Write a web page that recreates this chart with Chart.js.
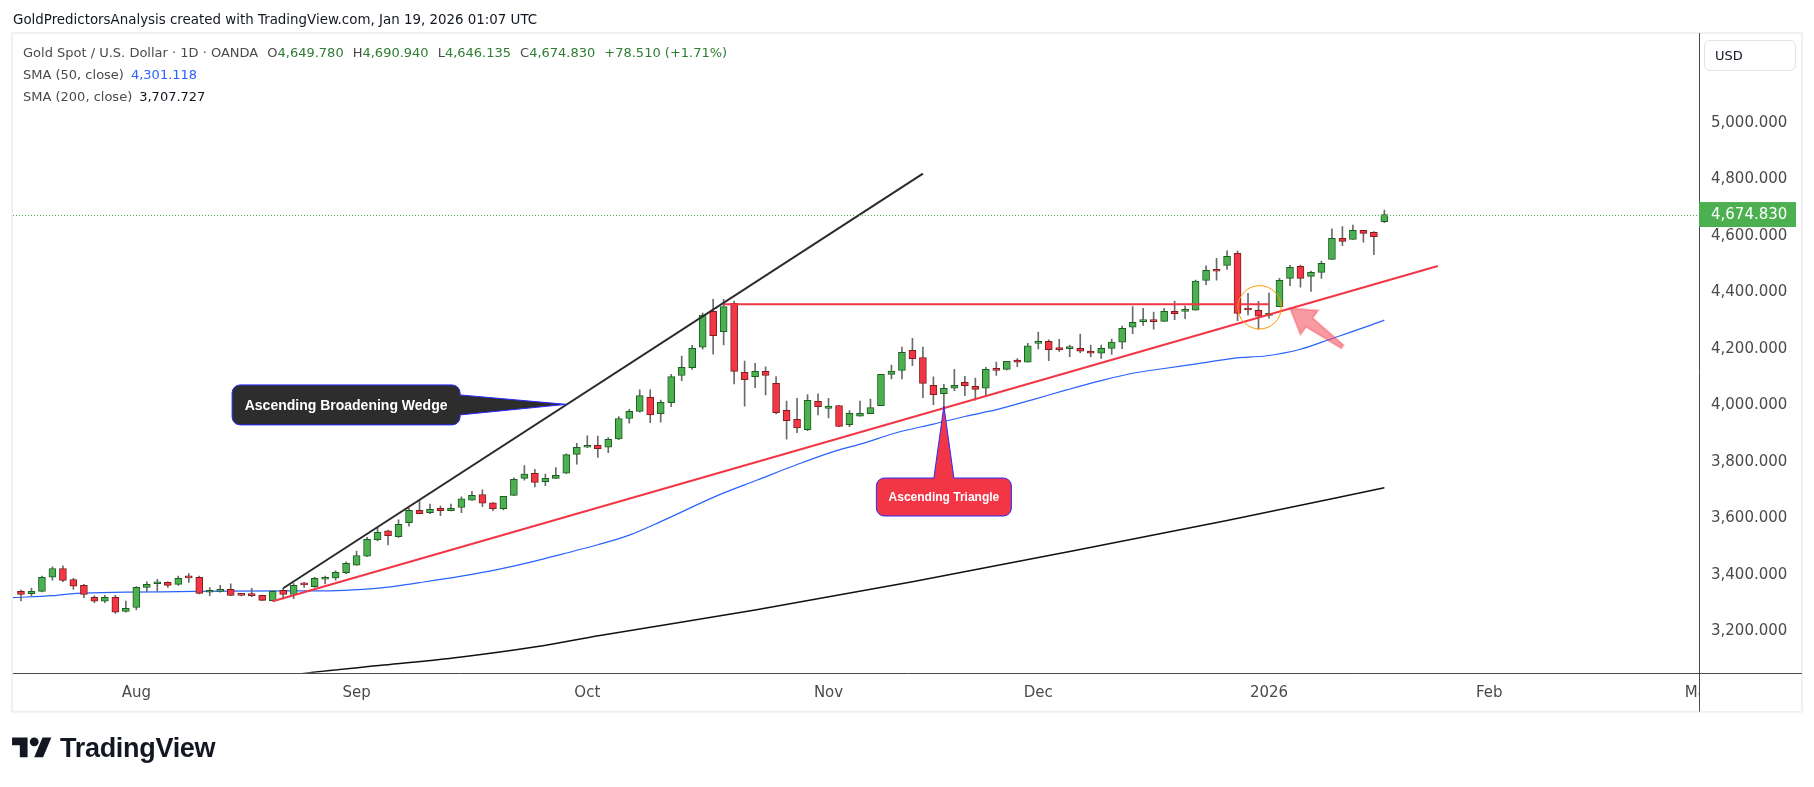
<!DOCTYPE html>
<html lang="en">
<head>
<meta charset="utf-8">
<title>Gold Spot / U.S. Dollar - 1D - OANDA</title>
<script src="https://cdn.jsdelivr.net/npm/chart.js@4.4.1/dist/chart.umd.min.js"></script>
<style>
    html, body { margin: 0; padding: 0; background: #ffffff; }
    body { position: relative; width: 1814px; height: 787px; overflow: hidden; font-family: 'DejaVu Sans', sans-serif; }
    #priceChart { position: absolute; left: 0; top: 0; }
    .snapshot-title { position: absolute; left: 13px; top: 11px; font-size: 13.4px; line-height: 17px; color: #131722; white-space: nowrap; }
    .legend-row { position: absolute; left: 23px; font-size: 13px; line-height: 16px; color: #4a4a4a; white-space: nowrap; }
    .legend-row .gap { margin-left: 9px; }
    .legend-row .up { color: #2e7d32; }
    .legend-row .sma50 { color: #2962ff; margin-left: 7px; }
    .legend-row .sma200 { color: #131722; margin-left: 7px; }
    .usd-btn { position: absolute; left: 1704px; top: 40px; width: 92px; height: 31px; box-sizing: border-box; border: 1px solid #e0e3eb; border-radius: 6px; padding-left: 10px; font-size: 13px; line-height: 29px; color: #131722; }
    .tv-logo { position: absolute; left: 12px; top: 733px; height: 31px; display: flex; align-items: center; color: #131722; }
    .tv-logo span { margin-left: 8px; font-family: 'Liberation Sans', sans-serif; font-weight: bold; font-size: 27px; letter-spacing: -0.3px; }
</style>
</head>
<body>
<canvas id="priceChart" width="1814" height="787"></canvas>
<div class="snapshot-title">GoldPredictorsAnalysis created with TradingView.com, Jan 19, 2026 01:07 UTC</div>
<div class="legend-row" id="legendMain" style="top: 45px"></div>
<div class="legend-row" id="legendSma50" style="top: 67px"></div>
<div class="legend-row" id="legendSma200" style="top: 89px"></div>
<div class="usd-btn">USD</div>
<div class="tv-logo">
    <svg width="40" height="31" viewBox="0 0 36 28"><path fill="#131722" d="M14 22H7V11H0V4h14v18zM28 22h-8l7.5-18h8L28 22z"/><circle fill="#131722" cx="20" cy="8" r="4"/></svg>
    <span>TradingView</span>
</div>
<script>
// Daily candles, 17 Jul 2025 .. 19 Jan 2026 (bar index 0..130)
const opens = [
    3341, 3333, 3341, 3391, 3422, 3383, 3362, 3320, 3306, 3320,
    3270, 3284, 3355, 3368, 3373, 3366, 3390, 3391, 3338, 3341,
    3348, 3328, 3327, 3327, 3308, 3345, 3330, 3365, 3358, 3384,
    3389, 3407, 3434, 3466, 3524, 3555, 3535, 3584, 3628, 3620,
    3635, 3627, 3638, 3664, 3684, 3654, 3634, 3681, 3741, 3759,
    3729, 3741, 3759, 3826, 3851, 3858, 3851, 3881, 3953, 3978,
    4028, 3970, 4009, 4105, 4133, 4205, 4332, 4260, 4361, 4116,
    4101, 4120, 4077, 3982, 3950, 3913, 4014, 3989, 3999, 3931,
    3961, 3970, 3998, 4109, 4123, 4194, 4169, 4070, 4041, 4060,
    4081, 4067, 4060, 4127, 4127, 4160, 4152, 4219, 4226, 4198,
    4200, 4201, 4192, 4184, 4201, 4223, 4276, 4296, 4299, 4297,
    4332, 4332, 4336, 4442, 4481, 4495, 4538, 4338, 4336, 4318,
    4349, 4449, 4492, 4456, 4470, 4516, 4591, 4587, 4619, 4612,
    4649.78
];
const highs = [
    3346, 3352, 3395, 3428, 3431, 3387, 3366, 3325, 3327, 3327,
    3307, 3358, 3375, 3384, 3375, 3395, 3404, 3395, 3354, 3362,
    3368, 3330, 3352, 3328, 3343, 3352, 3369, 3373, 3391, 3395,
    3414, 3446, 3484, 3532, 3566, 3558, 3594, 3635, 3664, 3650,
    3643, 3650, 3676, 3695, 3700, 3655, 3677, 3743, 3786, 3773,
    3756, 3779, 3828, 3865, 3892, 3891, 3885, 3960, 3985, 4054,
    4054, 4018, 4109, 4174, 4212, 4326, 4375, 4375, 4369, 4156,
    4148, 4136, 4101, 4015, 4024, 4038, 4040, 4024, 3999, 3981,
    4015, 4022, 4109, 4142, 4206, 4237, 4206, 4100, 4074, 4127,
    4102, 4096, 4134, 4153, 4155, 4165, 4219, 4259, 4231, 4233,
    4213, 4252, 4213, 4213, 4234, 4280, 4349, 4343, 4330, 4343,
    4369, 4351, 4443, 4493, 4520, 4546, 4546, 4396, 4368, 4397,
    4449, 4495, 4496, 4475, 4510, 4624, 4632, 4638, 4619, 4615,
    4690.94
];
const lows = [
    3307, 3326, 3339, 3381, 3375, 3348, 3319, 3301, 3301, 3263,
    3267, 3275, 3339, 3342, 3355, 3362, 3373, 3332, 3326, 3338,
    3326, 3325, 3322, 3308, 3306, 3314, 3315, 3355, 3355, 3367,
    3381, 3404, 3433, 3464, 3520, 3505, 3532, 3572, 3615, 3616,
    3609, 3626, 3620, 3663, 3641, 3627, 3629, 3680, 3735, 3711,
    3715, 3740, 3758, 3791, 3850, 3815, 3832, 3878, 3936, 3975,
    3938, 3940, 3995, 4087, 4127, 4198, 4181, 4213, 4075, 3997,
    4062, 4036, 3969, 3880, 3903, 3910, 3966, 3955, 3924, 3924,
    3961, 3970, 3998, 4093, 4093, 4140, 4027, 4002, 3985, 4051,
    4034, 4018, 4036, 4105, 4125, 4136, 4152, 4199, 4158, 4190,
    4172, 4186, 4172, 4166, 4180, 4200, 4253, 4282, 4269, 4297,
    4303, 4306, 4336, 4427, 4443, 4481, 4299, 4320, 4269, 4308,
    4349, 4423, 4418, 4403, 4449, 4516, 4565, 4587, 4577, 4533,
    4646.135
];
const closes = [
    3330, 3341, 3391, 3422, 3380, 3359, 3330, 3306, 3320, 3267,
    3281, 3355, 3366, 3373, 3362, 3387, 3389, 3334, 3342, 3348,
    3327, 3327, 3326, 3309, 3341, 3330, 3362, 3364, 3387, 3391,
    3408, 3440, 3468, 3525, 3550, 3538, 3578, 3628, 3616, 3631,
    3627, 3635, 3669, 3681, 3653, 3634, 3677, 3738, 3756, 3727,
    3741, 3752, 3825, 3851, 3857, 3846, 3879, 3953, 3978, 4034,
    3966, 4010, 4101, 4134, 4201, 4319, 4246, 4349, 4120, 4090,
    4120, 4105, 3974, 3945, 3920, 4017, 3995, 3997, 3925, 3971,
    3971, 3992, 4109, 4121, 4187, 4165, 4077, 4037, 4060, 4070,
    4069, 4056, 4127, 4123, 4155, 4152, 4210, 4226, 4197, 4197,
    4202, 4191, 4184, 4201, 4223, 4272, 4293, 4297, 4296, 4332,
    4324, 4333, 4439, 4477, 4474, 4527, 4325, 4337, 4315, 4325,
    4442, 4488, 4449, 4470, 4502, 4591, 4580, 4619, 4608, 4596.32,
    4674.83
];

// Moving averages at these bar positions
const sma50X = [-0.8, 3, 5.3, 10, 15, 20, 25, 29.5, 32.6, 35, 38, 42, 45.4, 49, 51.7, 55, 58, 61, 66.4, 70.2, 74, 77.4, 80, 83.8, 87, 90, 93.3, 96.5, 99.7, 102.9, 106, 109, 112.4, 115.6, 118.8, 122, 125.1, 128.3, 130];
const sma50Y = [3319, 3326, 3334, 3338, 3340, 3342, 3343, 3343, 3348, 3356, 3372, 3395, 3418, 3448, 3474, 3506, 3540, 3588, 3680, 3735, 3790, 3835, 3862, 3906, 3933, 3960, 3987, 4020, 4054, 4086, 4113, 4130, 4148, 4166, 4175, 4198, 4237, 4278, 4301.118];
const sma200X = [20, 27.5, 34.6, 41.8, 49.1, 55.2, 70, 85, 100, 115, 130];
const sma200Y = [3012, 3053, 3080, 3108, 3145, 3185, 3275, 3375, 3482, 3592, 3707.727];

// Drawn trend lines: [start, end] in bar index / price
const wedgeX = [25, 86];
const wedgeY = [3352, 4820];
const supportX = [24, 135.1];
const supportY = [3306, 4493];
const resistX = [67, 119];
const resistY = [4357, 4357];

// Axis ticks
const monthTicks = [11, 32, 54, 77, 97, 119, 140, 160];
const monthLabels = ['Aug', 'Sep', 'Oct', 'Nov', 'Dec', '2026', 'Feb', 'Mar'];
const priceTicks = [3200, 3400, 3600, 3800, 4000, 4200, 4400, 4600, 4800, 5000];

// Annotation anchors (bar index, price)
const retestCircle = [118.1, 4346.5];
const arrowTip = [121, 4343];
const arrowTail = [126, 4207];
const wedgeNote = { text: 'Ascending Broadening Wedge', at: [31, 4001], tip: [52, 4003] };
const triangleNote = { text: 'Ascending Triangle', at: [88, 3675], tip: [88, 3997] };

const fmt = (v, d = 3) => v.toLocaleString('en-US', { minimumFractionDigits: d, maximumFractionDigits: d });
const toPoints = (xs, ys) => xs.map((x, i) => ({ x, y: ys[i] }));

function buildLegend() {
    const last = closes.length - 1;
    const change = closes[last] - closes[last - 1];
    const pct = change / closes[last - 1] * 100;
    const sign = change >= 0 ? '+' : '';
    const ohlc = [['O', opens[last]], ['H', highs[last]], ['L', lows[last]], ['C', closes[last]]]
        .map(([k, v]) => `<span class="gap">${k}</span><span class="up">${fmt(v)}</span>`).join('');
    document.getElementById('legendMain').innerHTML =
        '<span>Gold Spot / U.S. Dollar · 1D · OANDA</span>' + ohlc +
        `<span class="gap up">${sign}${fmt(change)} (${sign}${pct.toFixed(2)}%)</span>`;
    document.getElementById('legendSma50').innerHTML =
        `<span>SMA (50, close)</span><span class="sma50">${fmt(sma50Y[sma50Y.length - 1])}</span>`;
    document.getElementById('legendSma200').innerHTML =
        `<span>SMA (200, close)</span><span class="sma200">${fmt(sma200Y[sma200Y.length - 1])}</span>`;
}

function calloutPath(ctx, x, y, w, h, r, side, tip, half) {
    const cx = x + w / 2, cy = y + h / 2;
    ctx.beginPath();
    ctx.moveTo(x + r, y);
    if (side === 'top') {
        ctx.lineTo(cx - half, y);
        ctx.lineTo(tip.x, tip.y);
        ctx.lineTo(cx + half, y);
    }
    ctx.lineTo(x + w - r, y);
    ctx.arcTo(x + w, y, x + w, y + r, r);
    if (side === 'right') {
        ctx.lineTo(x + w, cy - half);
        ctx.lineTo(tip.x, tip.y);
        ctx.lineTo(x + w, cy + half);
    }
    ctx.lineTo(x + w, y + h - r);
    ctx.arcTo(x + w, y + h, x + w - r, y + h, r);
    ctx.lineTo(x + r, y + h);
    ctx.arcTo(x, y + h, x, y + h - r, r);
    ctx.lineTo(x, y + r);
    ctx.arcTo(x, y, x + r, y, r);
    ctx.closePath();
}

function drawCallout(ctx, sx, sy, note, opts) {
    const cx = sx.getPixelForValue(note.at[0]);
    const cy = sy.getPixelForValue(note.at[1]);
    const tip = { x: sx.getPixelForValue(note.tip[0]), y: sy.getPixelForValue(note.tip[1]) };
    const x = cx - opts.w / 2, y = cy - opts.h / 2;
    calloutPath(ctx, x, y, opts.w, opts.h, 8, opts.side, tip, 10);
    ctx.fillStyle = opts.fill;
    ctx.fill();
    ctx.strokeStyle = '#2a2aff';
    ctx.lineWidth = 1;
    ctx.stroke();
    ctx.fillStyle = '#ffffff';
    ctx.font = `bold ${opts.size}px 'Liberation Sans', sans-serif`;
    ctx.textAlign = 'center';
    ctx.textBaseline = 'middle';
    ctx.fillText(note.text, cx, cy + 1);
}

function drawArrow(ctx, tip, tail) {
    const dx = tip.x - tail.x, dy = tip.y - tail.y;
    const len = Math.hypot(dx, dy);
    const ux = dx / len, uy = dy / len;
    const px = -uy, py = ux;
    const headLen = 24, headHalf = 15, neckHalf = 5.5, tailHalf = 2;
    const bx = tip.x - ux * headLen, by = tip.y - uy * headLen;
    ctx.beginPath();
    ctx.moveTo(tip.x, tip.y);
    ctx.lineTo(bx + px * headHalf, by + py * headHalf);
    ctx.lineTo(bx + px * neckHalf, by + py * neckHalf);
    ctx.lineTo(tail.x + px * tailHalf, tail.y + py * tailHalf);
    ctx.lineTo(tail.x - px * tailHalf, tail.y - py * tailHalf);
    ctx.lineTo(bx - px * neckHalf, by - py * neckHalf);
    ctx.lineTo(bx - px * headHalf, by - py * headHalf);
    ctx.closePath();
    ctx.fillStyle = 'rgba(242, 54, 69, 0.5)';
    ctx.fill();
    ctx.strokeStyle = 'rgba(242, 54, 69, 0.3)';
    ctx.lineWidth = 2;
    ctx.stroke();
}

const drawingsPlugin = {
    id: 'drawings',
    beforeDraw(chart) {
        const { ctx, chartArea: a, scales: { x, y } } = chart;
        ctx.save();
        ctx.fillStyle = '#ffffff';
        ctx.fillRect(0, 0, chart.width, chart.height);
        ctx.strokeStyle = '#eef0f3';
        ctx.lineWidth = 2;
        ctx.strokeRect(a.left - 1, a.top - 3, y.right - a.left + 1, x.bottom - a.top + 3);
        ctx.restore();
    },
    afterDraw(chart) {
        const { ctx, chartArea: a, scales: { x, y } } = chart;
        ctx.save();

        // the time label under the price scale is cut off
        ctx.fillStyle = '#ffffff';
        ctx.fillRect(a.right + 1, x.top + 1, y.right - a.right - 2, x.bottom - x.top - 2);

        // axis lines
        ctx.strokeStyle = '#4a4a4a';
        ctx.lineWidth = 1;
        ctx.beginPath();
        ctx.moveTo(a.left, Math.round(x.top) + 0.5);
        ctx.lineTo(y.right, Math.round(x.top) + 0.5);
        ctx.moveTo(Math.round(a.right) + 0.5, a.top - 3);
        ctx.lineTo(Math.round(a.right) + 0.5, x.bottom);
        ctx.stroke();

        // last price line and label
        const last = closes[closes.length - 1];
        const py = y.getPixelForValue(last);
        ctx.strokeStyle = '#4caf50';
        ctx.setLineDash([1, 2]);
        ctx.beginPath();
        ctx.moveTo(a.left, Math.round(py) + 0.5);
        ctx.lineTo(a.right, Math.round(py) + 0.5);
        ctx.stroke();
        ctx.setLineDash([]);
        ctx.fillStyle = '#4caf50';
        ctx.fillRect(a.right, py - 12.5, 97, 25);
        ctx.fillStyle = '#ffffff';
        ctx.font = "15px 'DejaVu Sans', sans-serif";
        ctx.textAlign = 'left';
        ctx.textBaseline = 'middle';
        ctx.fillText(fmt(last), a.right + 12, py + 1);

        // retest circle
        ctx.strokeStyle = '#ff9800';
        ctx.lineWidth = 1;
        ctx.beginPath();
        ctx.arc(x.getPixelForValue(retestCircle[0]), y.getPixelForValue(retestCircle[1]), 21.7, 0, Math.PI * 2);
        ctx.stroke();

        // arrow pointing at the retest
        drawArrow(ctx,
            { x: x.getPixelForValue(arrowTip[0]), y: y.getPixelForValue(arrowTip[1]) },
            { x: x.getPixelForValue(arrowTail[0]), y: y.getPixelForValue(arrowTail[1]) });

        // callouts
        drawCallout(ctx, x, y, wedgeNote, { w: 228, h: 40, side: 'right', fill: '#2d2d2d', size: 14 });
        drawCallout(ctx, x, y, triangleNote, { w: 135, h: 38, side: 'top', fill: '#f23645', size: 12 });

        ctx.restore();
    }
};

const barIndex = opens.map((_, i) => i);
const upBar = barIndex.map(i => closes[i] >= opens[i]);

new Chart(document.getElementById('priceChart'), {
    type: 'bar',
    data: {
        datasets: [
            { type: 'line', label: 'Wedge', data: toPoints(wedgeX, wedgeY), borderColor: '#2b2b2b', borderWidth: 2, pointRadius: 0, order: 0 },
            { type: 'line', label: 'Support', data: toPoints(supportX, supportY), borderColor: '#f23645', borderWidth: 2, pointRadius: 0, order: 0 },
            { type: 'line', label: 'Resistance', data: toPoints(resistX, resistY), borderColor: '#f23645', borderWidth: 2, pointRadius: 0, order: 0 },
            {
                label: 'Body',
                data: barIndex.map(i => ({ x: i, y: [opens[i], closes[i]] })),
                backgroundColor: upBar.map(u => u ? '#4caf50' : '#f23645'),
                borderColor: upBar.map(u => u ? '#1b5e20' : '#7f1d1d'),
                borderWidth: 1,
                borderSkipped: false,
                barThickness: 7,
                minBarLength: 2,
                grouped: false,
                order: 1
            },
            {
                label: 'Wick',
                data: barIndex.map(i => ({ x: i, y: [lows[i], highs[i]] })),
                backgroundColor: '#6b6b6b',
                barThickness: 1,
                grouped: false,
                order: 2
            },
            { type: 'line', label: 'SMA 50', data: toPoints(sma50X, sma50Y), borderColor: '#2962ff', borderWidth: 1.2, pointRadius: 0, cubicInterpolationMode: 'monotone', order: 3 },
            { type: 'line', label: 'SMA 200', data: toPoints(sma200X, sma200Y), borderColor: '#111111', borderWidth: 1.5, pointRadius: 0, cubicInterpolationMode: 'monotone', order: 3 }
        ]
    },
    options: {
        responsive: false,
        animation: false,
        events: [],
        layout: { padding: { left: 13, right: 12, top: 36, bottom: 75.3 } },
        plugins: { legend: { display: false }, tooltip: { enabled: false } },
        scales: {
            x: {
                type: 'linear',
                min: -0.76,
                max: 160,
                offset: false,
                grid: { display: false, drawTicks: false },
                border: { display: false },
                afterBuildTicks: s => { s.ticks = monthTicks.map(v => ({ value: v })); },
                afterFit: s => { s.height = 39; },
                ticks: {
                    autoSkip: false,
                    maxRotation: 0,
                    padding: 11,
                    color: '#4a4a4a',
                    font: { family: 'DejaVu Sans', size: 15 },
                    callback: (v, i) => monthLabels[i]
                }
            },
            y: {
                position: 'right',
                min: 3053.1,
                max: 5306.9,
                grid: { display: false, drawTicks: false },
                border: { display: false },
                afterBuildTicks: s => { s.ticks = priceTicks.map(v => ({ value: v })); },
                afterFit: s => { s.width = 103; },
                ticks: {
                    padding: 12,
                    color: '#4a4a4a',
                    font: { family: 'DejaVu Sans', size: 15 },
                    callback: v => fmt(v)
                }
            }
        }
    },
    plugins: [drawingsPlugin]
});

buildLegend();
</script>
</body>
</html>
